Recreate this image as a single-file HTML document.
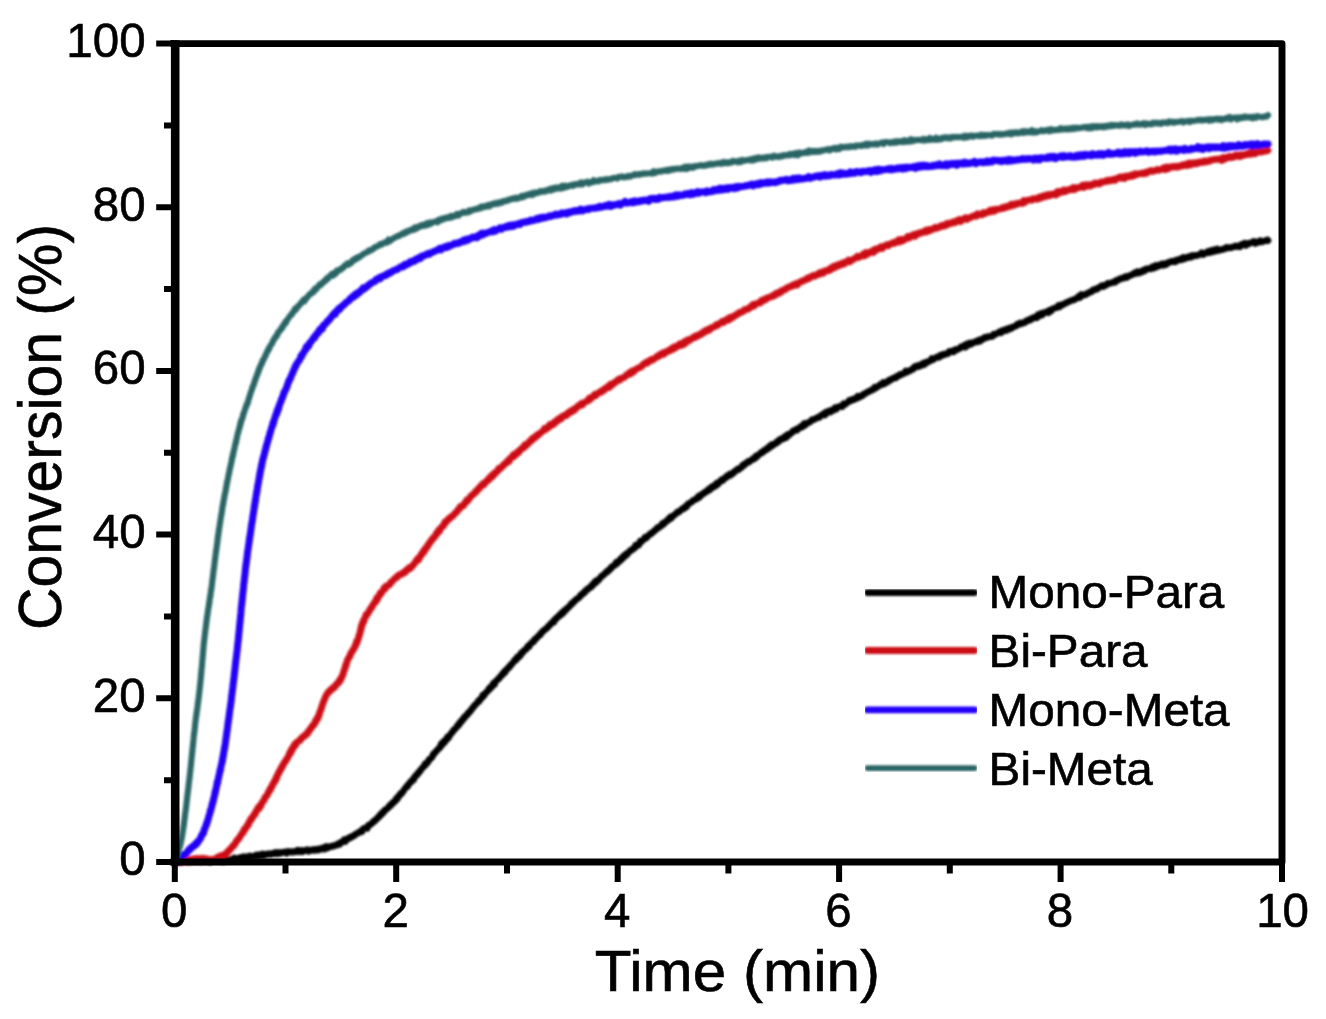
<!DOCTYPE html>
<html lang="en"><head><meta charset="utf-8"><title>Conversion vs Time</title>
<style>html,body{margin:0;padding:0;background:#fff}body{width:1326px;height:1019px;overflow:hidden}svg{display:block}text{font-family:"Liberation Sans",Arial,Helvetica,sans-serif;fill:#000;stroke:#000;stroke-width:0.6px}</style></head><body>
<svg width="1326" height="1019" viewBox="0 0 1326 1019">
<defs><filter id="soft" x="-2%" y="-2%" width="104%" height="104%"><feGaussianBlur stdDeviation="0.95"/></filter><filter id="soft2" x="-2%" y="-2%" width="104%" height="104%"><feGaussianBlur stdDeviation="0.6"/></filter></defs>
<rect width="1326" height="1019" fill="#fff"/>
<g filter="url(#soft)">
<g fill="none" stroke-linejoin="round" stroke-linecap="round">
<polyline stroke="#000000" stroke-width="6.6" points="175.0,862.2 176.6,861.3 178.2,862.2 179.8,860.4 181.4,862.4 183.0,861.1 184.6,861.8 186.2,861.1 187.8,862.1 189.4,861.0 191.0,862.0 192.6,861.1 194.2,861.6 195.8,860.7 197.4,861.7 199.0,861.0 200.6,861.9 202.2,860.6 203.8,861.5 205.4,860.5 207.0,861.7 208.6,860.4 210.2,862.0 211.8,860.8 213.4,860.4 215.0,859.5 216.6,861.1 218.2,859.9 219.8,861.1 221.4,859.9 223.0,861.6 224.6,859.2 226.2,860.4 227.7,860.1 229.3,860.5 230.9,859.2 232.5,859.7 234.1,858.0 235.7,859.5 237.3,858.2 238.9,858.6 240.4,857.4 242.0,858.5 243.6,856.8 245.2,858.0 246.8,856.7 248.4,857.6 249.9,856.0 251.5,857.3 253.1,856.1 254.7,856.7 256.3,855.0 257.9,856.4 259.5,854.7 261.0,856.1 262.6,854.0 264.2,855.7 265.8,854.0 267.4,854.5 269.0,853.5 270.6,854.5 272.2,853.3 273.7,853.8 275.3,852.4 276.9,853.8 278.5,852.3 280.1,853.5 281.7,852.4 283.3,852.4 284.9,851.9 286.5,853.2 288.1,851.4 289.6,852.2 291.2,851.5 292.8,852.3 294.4,851.3 296.0,851.9 297.6,850.2 299.2,851.7 300.8,850.4 302.4,851.8 304.0,850.4 305.6,850.7 307.2,849.6 308.8,851.3 310.4,850.0 312.0,850.4 313.6,849.4 315.1,850.4 316.7,849.1 318.3,850.1 319.9,848.5 321.5,849.2 323.0,847.8 324.6,849.1 326.2,846.4 327.8,848.0 329.4,846.6 330.9,846.8 332.4,845.9 333.9,846.2 335.4,845.1 336.9,845.2 338.3,843.7 339.8,844.3 341.2,842.1 342.6,841.9 344.0,839.8 345.4,841.4 346.8,838.8 348.2,839.0 349.6,837.4 351.0,837.6 352.4,836.1 353.8,836.1 355.2,834.2 356.6,834.2 357.9,832.7 359.3,832.4 360.6,831.0 362.0,831.6 363.3,828.5 364.7,828.3 366.0,827.5 367.3,828.4 368.6,825.0 369.9,825.0 371.1,823.6 372.3,823.2 373.5,821.1 374.7,821.2 375.8,819.4 377.0,819.0 378.1,817.0 379.3,816.8 380.4,814.3 381.5,814.5 382.7,812.0 383.8,812.3 384.9,809.7 386.1,809.7 387.2,808.4 388.4,807.8 389.5,805.6 390.7,805.8 391.8,803.2 393.0,803.3 394.1,801.3 395.2,801.2 396.3,798.4 397.3,799.0 398.4,796.2 399.4,795.9 400.4,793.6 401.5,793.7 402.5,792.1 403.5,790.9 404.5,789.0 405.5,788.0 406.5,786.5 407.5,786.7 408.5,783.9 409.6,783.6 410.6,781.6 411.6,781.7 412.7,779.4 413.7,779.7 414.7,776.7 415.8,776.3 416.8,774.2 417.8,774.1 418.8,771.8 419.9,771.6 420.9,769.4 421.9,768.5 422.9,767.2 424.0,766.5 425.0,763.9 426.0,764.5 427.0,762.4 428.1,762.0 429.1,759.5 430.1,759.0 431.1,758.1 432.1,757.2 433.2,754.1 434.2,754.1 435.2,752.1 436.2,751.4 437.3,749.7 438.3,749.3 439.3,747.6 440.3,747.4 441.3,743.7 442.4,744.6 443.4,741.7 444.4,742.6 445.4,739.9 446.5,739.9 447.5,736.9 448.5,737.9 449.5,735.7 450.6,734.4 451.6,732.6 452.6,732.1 453.6,730.0 454.7,729.4 455.7,728.3 456.7,727.1 457.8,725.0 458.8,725.2 459.8,722.4 460.9,722.4 461.9,720.0 462.9,720.0 464.0,717.3 465.0,717.5 466.0,715.3 467.1,715.1 468.1,712.9 469.2,712.7 470.2,710.8 471.2,710.2 472.3,708.0 473.3,707.7 474.4,705.4 475.4,705.0 476.5,703.4 477.5,702.7 478.6,700.5 479.6,700.8 480.7,698.5 481.7,698.1 482.8,695.2 483.8,696.0 484.9,693.7 485.9,692.9 487.0,691.5 488.0,690.8 489.1,688.3 490.2,688.7 491.2,686.3 492.3,686.4 493.3,683.4 494.4,684.6 495.5,681.4 496.5,680.9 497.6,679.4 498.7,679.0 499.7,677.0 500.8,676.6 501.9,674.4 502.9,674.5 504.0,671.8 505.1,672.3 506.2,669.5 507.2,669.3 508.3,667.4 509.4,667.4 510.5,664.9 511.5,664.6 512.6,662.9 513.7,661.9 514.8,659.9 515.9,660.2 517.0,657.4 518.1,657.9 519.1,655.6 520.2,655.9 521.3,652.9 522.4,653.0 523.5,651.1 524.6,650.0 525.7,649.8 526.8,648.3 527.9,646.1 529.1,646.6 530.2,644.0 531.3,643.3 532.4,642.0 533.5,642.0 534.6,639.3 535.7,639.3 536.9,637.4 538.0,636.8 539.1,635.1 540.2,635.0 541.4,632.4 542.5,632.1 543.6,630.3 544.8,630.1 545.9,628.6 547.0,628.2 548.2,626.2 549.3,626.0 550.5,623.8 551.6,623.4 552.8,621.7 553.9,622.1 555.1,619.1 556.2,619.0 557.4,617.0 558.5,616.8 559.7,614.6 560.8,614.9 562.0,612.5 563.2,613.2 564.3,610.4 565.5,610.5 566.6,608.6 567.8,608.1 569.0,606.6 570.2,605.8 571.3,603.6 572.5,603.7 573.7,601.6 574.8,601.2 576.0,599.5 577.2,598.9 578.4,597.9 579.5,597.3 580.7,594.9 581.9,594.9 583.1,592.9 584.3,593.0 585.4,590.5 586.6,590.5 587.8,588.6 589.0,588.5 590.2,586.9 591.4,587.0 592.5,584.4 593.7,584.6 594.9,581.7 596.1,582.5 597.3,580.1 598.5,580.3 599.6,578.6 600.8,577.1 602.0,575.9 603.2,575.4 604.4,573.9 605.6,573.2 606.7,571.3 607.9,571.6 609.1,569.6 610.3,569.4 611.5,566.9 612.7,567.0 613.8,565.4 615.0,565.1 616.2,562.3 617.4,563.3 618.6,560.9 619.8,561.1 621.0,558.5 622.2,559.0 623.4,556.1 624.5,556.8 625.7,554.2 626.9,554.7 628.1,552.7 629.3,552.0 630.5,550.2 631.7,550.2 633.0,548.5 634.2,548.4 635.4,545.5 636.6,546.2 637.8,544.2 639.0,544.8 640.2,541.2 641.4,541.7 642.7,540.3 643.9,539.3 645.1,537.3 646.4,538.0 647.6,536.1 648.8,535.5 650.1,533.9 651.3,533.8 652.5,532.2 653.8,531.7 655.0,530.0 656.3,529.4 657.5,527.6 658.8,527.7 660.0,526.1 661.3,526.0 662.5,523.4 663.8,524.0 665.0,522.0 666.3,521.8 667.6,519.6 668.8,519.8 670.1,517.1 671.4,518.0 672.6,515.9 673.9,515.6 675.2,514.2 676.4,513.5 677.7,511.7 679.0,511.9 680.3,510.8 681.5,509.5 682.8,508.3 684.1,508.6 685.4,506.3 686.7,506.8 687.9,503.9 689.2,503.5 690.5,502.6 691.8,502.0 693.1,500.3 694.4,500.2 695.7,499.0 696.9,499.0 698.2,496.4 699.5,497.2 700.8,494.8 702.1,494.9 703.4,493.0 704.7,493.0 706.0,491.3 707.3,491.4 708.6,489.1 709.9,489.8 711.2,487.1 712.5,487.6 713.8,485.7 715.1,486.2 716.4,483.5 717.7,484.5 719.0,481.9 720.3,481.9 721.6,479.7 723.0,480.4 724.3,478.2 725.6,477.9 726.9,475.9 728.2,476.3 729.5,474.2 730.8,475.1 732.1,473.2 733.4,473.2 734.8,471.0 736.1,470.9 737.4,469.0 738.7,469.5 740.0,468.0 741.3,467.7 742.6,465.2 743.9,465.5 745.2,463.3 746.6,463.4 747.9,461.6 749.2,461.9 750.5,460.5 751.8,460.0 753.1,458.5 754.4,458.8 755.7,456.2 757.0,456.9 758.4,454.6 759.7,454.3 761.0,452.6 762.3,452.7 763.6,450.6 764.9,450.8 766.2,448.9 767.6,449.2 768.9,446.7 770.2,447.2 771.5,444.6 772.8,445.5 774.2,443.7 775.5,443.7 776.8,441.7 778.1,442.1 779.5,439.6 780.8,440.0 782.1,438.3 783.5,438.7 784.8,436.5 786.2,437.6 787.5,434.6 788.9,435.2 790.2,433.4 791.6,433.1 792.9,430.9 794.3,431.0 795.6,429.6 797.0,430.2 798.4,428.0 799.7,428.2 801.1,426.1 802.5,426.8 803.9,423.8 805.3,425.0 806.6,423.1 808.0,422.9 809.4,422.3 810.8,421.3 812.2,419.5 813.6,419.8 815.0,418.9 816.4,418.4 817.9,417.2 819.3,417.5 820.7,415.6 822.1,415.3 823.5,413.8 825.0,415.0 826.4,412.0 827.8,412.6 829.2,411.0 830.7,411.8 832.1,409.8 833.5,410.3 835.0,407.8 836.4,409.0 837.8,407.0 839.3,406.6 840.7,406.0 842.2,406.7 843.6,403.7 845.0,404.4 846.5,403.1 847.9,402.4 849.3,400.4 850.7,401.0 852.2,399.4 853.6,399.8 855.0,398.4 856.4,398.7 857.8,396.2 859.3,397.3 860.7,395.9 862.1,396.0 863.5,394.1 864.9,394.1 866.3,392.6 867.7,392.2 869.1,391.0 870.5,391.0 871.9,389.6 873.3,389.7 874.7,387.2 876.1,388.0 877.5,386.6 878.9,386.0 880.3,384.4 881.7,384.7 883.1,382.5 884.5,383.8 885.9,382.1 887.3,382.3 888.8,380.2 890.2,380.5 891.6,378.8 893.0,378.8 894.4,377.6 895.8,378.0 897.3,376.1 898.7,376.0 900.1,374.4 901.5,374.7 903.0,373.6 904.4,373.4 905.8,370.9 907.3,372.1 908.7,370.9 910.1,370.9 911.6,369.2 913.0,369.3 914.5,366.7 915.9,367.2 917.3,365.7 918.8,366.5 920.2,364.9 921.7,365.5 923.1,363.3 924.6,364.3 926.0,362.0 927.5,362.3 928.9,361.2 930.4,360.9 931.8,358.5 933.3,359.6 934.7,358.3 936.2,357.5 937.6,356.8 939.1,357.3 940.6,355.1 942.0,355.6 943.5,354.2 944.9,354.7 946.4,353.6 947.8,353.7 949.3,351.3 950.8,352.0 952.2,350.9 953.7,351.8 955.1,349.5 956.6,350.0 958.1,348.9 959.5,348.7 961.0,346.8 962.5,346.9 963.9,345.6 965.4,347.1 966.9,344.0 968.4,345.1 969.8,342.9 971.3,344.0 972.8,342.6 974.3,342.6 975.8,341.3 977.3,341.9 978.7,340.1 980.2,341.1 981.7,339.0 983.2,339.2 984.7,337.3 986.2,337.8 987.7,336.6 989.2,336.9 990.7,336.3 992.2,336.5 993.7,334.1 995.2,334.6 996.7,333.6 998.1,332.8 999.6,331.7 1001.1,332.7 1002.6,330.3 1004.1,331.0 1005.6,329.4 1007.1,330.3 1008.6,328.4 1010.1,329.0 1011.6,327.3 1013.0,327.6 1014.5,326.3 1016.0,326.1 1017.5,324.1 1019.0,324.5 1020.4,322.8 1021.9,323.7 1023.4,322.5 1024.9,322.7 1026.3,320.7 1027.8,320.9 1029.3,319.4 1030.7,319.9 1032.2,318.1 1033.6,318.2 1035.1,316.8 1036.6,317.8 1038.0,314.8 1039.5,316.0 1040.9,313.5 1042.4,314.8 1043.8,312.6 1045.3,312.6 1046.7,311.6 1048.2,312.7 1049.6,310.2 1051.1,311.1 1052.5,308.8 1053.9,308.4 1055.4,307.7 1056.8,307.7 1058.3,305.6 1059.7,306.8 1061.2,304.9 1062.6,305.0 1064.1,303.7 1065.5,303.5 1066.9,302.3 1068.4,302.1 1069.8,300.9 1071.3,300.7 1072.7,299.9 1074.2,299.9 1075.6,298.6 1077.1,298.2 1078.5,296.5 1080.0,297.5 1081.4,294.4 1082.9,295.4 1084.3,294.5 1085.8,294.7 1087.2,293.2 1088.7,293.1 1090.2,291.7 1091.6,291.7 1093.1,289.7 1094.5,290.0 1096.0,288.7 1097.4,289.1 1098.9,287.4 1100.4,286.7 1101.8,285.6 1103.3,286.6 1104.8,285.1 1106.2,285.3 1107.7,283.4 1109.1,283.4 1110.6,283.3 1112.1,282.6 1113.6,281.9 1115.0,282.4 1116.5,280.2 1118.0,280.3 1119.5,278.9 1120.9,278.9 1122.4,277.8 1123.9,278.2 1125.4,276.7 1126.9,277.4 1128.4,276.1 1129.9,275.8 1131.4,274.7 1132.9,274.5 1134.4,272.9 1135.9,273.5 1137.4,271.8 1138.9,273.1 1140.4,271.5 1141.9,272.2 1143.4,270.1 1144.9,270.8 1146.4,268.9 1147.9,269.2 1149.5,268.3 1151.0,268.8 1152.5,266.7 1154.0,268.0 1155.6,265.5 1157.1,266.7 1158.6,265.0 1160.1,265.6 1161.7,263.9 1163.2,265.3 1164.7,263.6 1166.3,264.5 1167.8,262.5 1169.3,262.6 1170.9,261.4 1172.4,261.8 1173.9,260.9 1175.5,261.8 1177.0,259.9 1178.5,260.3 1180.1,258.8 1181.6,259.7 1183.2,257.6 1184.7,258.9 1186.3,257.4 1187.8,257.8 1189.3,256.3 1190.9,257.3 1192.4,255.4 1194.0,256.1 1195.5,255.2 1197.1,255.7 1198.6,254.8 1200.2,254.5 1201.7,252.7 1203.3,254.5 1204.8,253.0 1206.4,253.1 1207.9,251.4 1209.5,252.6 1211.0,250.5 1212.6,251.8 1214.1,249.7 1215.7,251.1 1217.2,249.0 1218.8,250.5 1220.3,249.7 1221.9,249.8 1223.4,248.7 1224.9,249.0 1226.4,247.4 1227.9,248.0 1229.5,247.5 1231.0,247.9 1232.5,247.1 1234.0,246.8 1235.5,245.8 1237.0,246.7 1238.5,245.8 1240.0,246.7 1241.5,244.4 1243.0,245.0 1244.5,243.3 1246.0,245.3 1247.5,243.4 1249.0,243.9 1250.5,242.8 1252.1,242.6 1253.6,241.5 1255.2,243.4 1256.8,241.8 1258.5,242.5 1260.2,240.6 1261.9,242.0 1263.7,241.1 1265.5,240.7 1267.4,239.8 1268.0,240.6"/>
<polyline stroke="#cc0b12" stroke-width="6.8" points="175.0,862.1 176.6,860.7 178.2,861.7 179.8,859.7 181.4,862.3 183.0,860.9 184.6,861.3 186.2,860.4 187.8,861.1 189.4,859.5 190.9,860.9 192.5,859.1 194.1,860.0 195.7,858.5 197.3,859.9 198.9,858.5 200.5,859.9 202.1,858.4 203.7,859.9 205.3,858.6 206.9,860.5 208.5,859.3 210.1,860.5 211.6,859.3 213.3,859.6 214.9,858.8 216.4,860.0 218.0,856.9 219.5,857.5 220.8,855.9 222.2,857.2 223.5,854.9 224.8,855.4 226.1,853.0 227.3,852.8 228.5,850.6 229.6,850.4 230.7,848.5 231.8,847.7 232.9,845.7 233.9,845.8 234.8,844.0 235.8,842.8 236.7,840.3 237.7,840.2 238.6,838.4 239.5,837.7 240.4,835.9 241.3,834.4 242.2,833.1 243.1,832.9 244.0,829.5 244.9,829.8 245.7,827.8 246.5,827.1 247.4,825.0 248.2,825.2 249.1,822.0 249.9,821.5 250.8,818.9 251.7,819.2 252.6,816.5 253.5,816.3 254.4,813.9 255.3,814.0 256.2,810.9 257.1,810.5 258.0,807.7 258.9,808.9 259.8,806.0 260.7,806.3 261.6,803.3 262.4,802.7 263.3,800.7 264.1,800.3 264.9,797.3 265.8,797.2 266.6,795.7 267.4,794.9 268.2,792.4 269.0,791.9 269.8,789.2 270.6,789.5 271.4,786.7 272.2,786.1 272.9,783.9 273.7,783.2 274.4,781.1 275.2,781.2 275.9,777.9 276.6,778.4 277.3,775.1 278.0,775.0 278.7,772.2 279.5,772.1 280.2,769.7 281.0,769.2 281.8,766.6 282.6,766.4 283.4,763.8 284.2,763.3 285.0,761.3 285.8,761.2 286.6,758.9 287.4,758.5 288.1,756.7 288.9,755.6 289.6,752.8 290.4,753.4 291.2,749.8 292.1,750.3 292.9,747.1 293.8,747.4 294.7,744.1 295.7,745.0 296.7,742.3 297.7,741.9 298.9,740.7 300.1,740.4 301.3,738.0 302.6,737.7 303.8,735.8 305.0,735.8 306.2,734.0 307.3,734.0 308.3,731.1 309.3,731.0 310.3,728.7 311.2,728.2 312.2,726.0 313.1,726.0 314.0,723.8 314.8,723.8 315.6,720.5 316.4,720.7 317.2,717.9 317.9,718.5 318.6,715.2 319.2,715.0 319.8,711.8 320.3,711.5 320.9,709.2 321.4,708.5 321.9,706.1 322.4,705.0 322.9,703.2 323.4,702.1 324.0,700.5 324.6,699.4 325.2,697.4 325.9,696.2 326.7,694.4 327.5,693.8 328.5,691.6 329.6,691.7 330.8,689.4 332.0,689.6 333.2,687.5 334.5,687.5 335.7,685.0 336.9,684.5 338.0,682.4 339.0,682.5 339.9,679.4 340.6,680.3 341.3,677.5 342.0,677.1 342.5,675.0 343.1,674.5 343.6,671.7 344.1,670.8 344.6,668.7 345.1,668.2 345.6,665.1 346.1,665.4 346.7,662.5 347.2,661.2 347.8,659.4 348.5,658.5 349.2,656.9 349.9,656.4 350.7,653.2 351.4,653.0 352.2,650.8 353.0,650.4 353.8,648.6 354.5,647.9 355.3,645.0 356.0,645.0 356.6,641.5 357.3,642.0 357.8,639.7 358.4,638.9 358.8,636.0 359.3,636.1 359.7,633.9 360.1,632.8 360.5,629.6 360.9,630.1 361.3,626.2 361.7,626.7 362.2,623.7 362.8,623.9 363.4,620.6 364.0,621.1 364.7,618.2 365.5,617.1 366.2,614.5 367.0,614.9 367.9,613.0 368.7,612.3 369.6,609.8 370.5,609.4 371.3,607.3 372.2,606.9 373.1,604.5 373.9,603.7 374.8,602.1 375.7,601.9 376.5,598.4 377.4,599.6 378.3,596.5 379.3,595.9 380.2,592.9 381.1,593.7 382.1,591.3 383.1,590.7 384.1,587.9 385.1,588.9 386.2,586.0 387.3,586.0 388.5,585.1 389.6,584.8 390.8,582.2 392.0,581.7 393.3,580.0 394.5,578.9 395.7,577.7 397.0,577.5 398.3,575.2 399.5,575.2 400.9,574.0 402.2,574.1 403.6,572.1 405.0,572.6 406.3,570.0 407.6,570.1 408.9,567.8 410.1,568.5 411.3,566.7 412.4,566.4 413.5,564.4 414.5,563.6 415.6,561.6 416.6,561.3 417.6,558.8 418.6,559.8 419.6,557.0 420.5,556.2 421.5,553.8 422.5,553.9 423.4,551.0 424.4,551.5 425.3,548.5 426.3,548.6 427.2,546.0 428.1,545.9 429.0,543.2 429.9,542.9 430.8,540.7 431.7,540.6 432.6,538.3 433.6,538.3 434.5,536.4 435.5,536.0 436.4,533.2 437.4,533.4 438.4,530.5 439.4,531.2 440.4,528.5 441.5,527.6 442.5,526.1 443.5,526.0 444.6,522.4 445.6,523.0 446.7,520.8 447.8,520.2 448.9,518.3 450.0,518.3 451.1,516.6 452.3,516.5 453.4,515.2 454.6,514.0 455.7,512.4 456.9,512.0 458.0,509.8 459.1,509.2 460.2,506.7 461.3,507.1 462.4,505.4 463.5,505.6 464.6,503.0 465.7,502.8 466.8,500.1 467.8,500.9 468.9,498.5 470.0,497.8 471.1,495.7 472.3,495.3 473.4,494.0 474.5,493.6 475.7,491.2 476.8,491.3 478.0,489.1 479.1,488.8 480.3,486.3 481.4,486.3 482.6,483.9 483.8,484.7 484.9,483.2 486.1,481.7 487.2,480.2 488.4,480.3 489.6,477.6 490.7,478.0 491.9,475.3 493.0,476.2 494.2,473.3 495.3,473.6 496.5,471.6 497.6,471.2 498.8,468.4 500.0,468.9 501.1,467.2 502.3,466.9 503.5,464.8 504.6,464.3 505.8,462.6 506.9,462.8 508.1,460.4 509.3,461.1 510.5,458.1 511.6,457.8 512.8,455.4 514.0,456.5 515.2,453.8 516.4,454.3 517.5,451.9 518.7,452.4 519.9,450.1 521.1,449.5 522.3,447.6 523.5,447.9 524.7,444.9 525.9,446.0 527.1,443.8 528.3,443.7 529.6,441.2 530.8,441.4 532.0,438.8 533.2,439.3 534.5,437.0 535.7,437.3 537.0,435.0 538.2,435.4 539.4,433.7 540.7,432.9 542.0,431.6 543.2,430.7 544.5,428.5 545.7,429.5 547.0,427.5 548.3,427.8 549.6,424.9 550.9,425.7 552.1,423.8 553.4,424.4 554.7,421.8 556.0,422.2 557.3,419.7 558.6,420.2 559.9,418.1 561.3,418.7 562.6,416.1 563.9,416.3 565.2,414.9 566.5,415.5 567.8,413.0 569.2,413.2 570.5,411.0 571.8,411.7 573.2,409.5 574.5,410.2 575.8,407.7 577.2,407.4 578.5,405.6 579.8,405.7 581.2,403.6 582.5,404.8 583.8,402.6 585.2,402.1 586.5,401.2 587.9,400.9 589.2,398.4 590.5,399.2 591.9,397.0 593.2,397.0 594.5,394.6 595.9,395.5 597.2,393.7 598.6,392.8 599.9,392.0 601.2,392.3 602.6,389.9 603.9,390.3 605.3,388.2 606.6,388.2 607.9,386.4 609.3,387.3 610.6,384.3 612.0,385.2 613.3,383.2 614.7,383.1 616.0,381.2 617.4,381.1 618.7,379.3 620.0,379.9 621.4,378.1 622.7,377.8 624.1,377.4 625.4,376.2 626.8,374.6 628.2,374.7 629.5,372.7 630.9,373.6 632.2,371.0 633.6,371.9 635.0,369.9 636.3,369.3 637.7,368.2 639.1,367.8 640.4,367.2 641.8,366.3 643.2,364.2 644.5,364.1 645.9,362.4 647.3,363.0 648.7,360.9 650.1,361.1 651.5,359.4 652.8,359.9 654.2,358.7 655.6,357.8 657.0,356.4 658.4,356.5 659.8,354.4 661.2,354.9 662.6,353.1 664.0,354.1 665.4,351.9 666.8,352.1 668.2,350.7 669.6,350.9 671.0,348.8 672.5,349.4 673.9,347.1 675.3,348.0 676.7,346.1 678.1,346.1 679.5,344.0 680.9,345.4 682.4,343.0 683.8,344.5 685.2,341.2 686.6,342.2 688.0,339.8 689.5,340.4 690.9,338.8 692.3,338.6 693.7,337.0 695.1,337.5 696.5,335.6 698.0,336.1 699.4,334.5 700.8,334.7 702.2,332.7 703.6,332.8 705.0,330.7 706.5,331.2 707.9,329.4 709.3,330.2 710.7,328.0 712.1,328.0 713.5,326.8 714.9,326.6 716.3,324.8 717.8,325.3 719.2,323.7 720.6,323.0 722.0,321.6 723.4,322.5 724.8,320.4 726.2,320.5 727.6,318.8 729.0,319.9 730.4,317.3 731.8,318.1 733.2,316.3 734.6,316.1 736.0,314.6 737.4,314.6 738.8,312.7 740.3,312.8 741.7,311.7 743.1,311.6 744.5,309.6 745.9,309.8 747.3,309.0 748.7,309.0 750.1,306.8 751.5,306.9 752.9,304.7 754.3,305.8 755.8,303.9 757.2,303.6 758.6,302.8 760.0,303.0 761.4,300.5 762.8,301.0 764.3,299.2 765.7,299.8 767.1,297.9 768.5,297.7 770.0,297.0 771.4,296.9 772.8,295.5 774.2,295.8 775.7,293.5 777.1,294.1 778.5,292.4 780.0,292.8 781.4,290.6 782.8,290.9 784.3,289.3 785.7,289.4 787.1,287.7 788.6,287.5 790.0,286.5 791.5,286.5 792.9,284.9 794.3,285.5 795.8,283.9 797.2,284.9 798.7,282.5 800.1,282.3 801.6,281.1 803.0,281.2 804.5,279.9 805.9,279.9 807.4,278.1 808.9,278.6 810.3,276.8 811.8,276.8 813.2,275.5 814.7,276.2 816.2,274.9 817.6,274.8 819.1,273.1 820.6,273.9 822.0,272.1 823.5,273.0 825.0,270.9 826.4,271.1 827.9,269.9 829.4,270.5 830.8,268.0 832.3,268.7 833.8,266.3 835.2,267.3 836.7,265.3 838.2,266.1 839.7,264.2 841.1,264.8 842.6,263.1 844.1,263.9 845.5,262.0 847.0,262.2 848.5,260.2 850.0,261.7 851.4,260.0 852.9,259.8 854.4,258.5 855.8,258.1 857.3,256.4 858.8,257.4 860.3,256.3 861.7,255.9 863.2,254.2 864.7,255.7 866.1,252.6 867.6,254.1 869.1,252.3 870.6,252.5 872.0,251.0 873.5,252.4 875.0,249.3 876.5,250.1 878.0,248.4 879.4,248.8 880.9,246.8 882.4,248.5 883.9,246.2 885.4,246.0 886.8,244.7 888.3,245.7 889.8,244.0 891.3,243.8 892.8,242.7 894.3,243.3 895.8,241.7 897.3,242.2 898.7,239.7 900.2,241.7 901.7,239.4 903.2,240.5 904.7,239.3 906.2,238.7 907.7,236.6 909.2,238.0 910.7,236.0 912.2,236.4 913.7,234.6 915.2,236.2 916.8,233.7 918.3,234.0 919.8,232.7 921.3,233.0 922.8,231.9 924.3,232.2 925.8,230.4 927.3,231.6 928.8,229.5 930.4,230.6 931.9,229.2 933.4,229.2 934.9,227.5 936.4,228.4 937.9,227.1 939.5,227.4 941.0,225.8 942.5,226.4 944.0,224.9 945.5,225.7 947.1,223.6 948.6,224.3 950.1,222.9 951.6,223.3 953.1,222.0 954.7,222.8 956.2,221.0 957.7,221.4 959.2,219.7 960.8,221.3 962.3,219.4 963.8,219.3 965.4,217.9 966.9,219.5 968.4,217.8 969.9,217.9 971.5,216.8 973.0,216.4 974.5,215.4 976.1,216.3 977.6,213.8 979.1,214.9 980.7,213.9 982.2,214.7 983.7,212.5 985.2,213.5 986.8,212.4 988.3,212.3 989.9,210.4 991.4,211.6 992.9,209.9 994.5,211.2 996.0,209.2 997.5,209.5 999.1,209.2 1000.6,208.8 1002.1,207.6 1003.7,208.3 1005.2,206.8 1006.8,207.3 1008.3,205.9 1009.8,206.3 1011.4,204.3 1012.9,205.4 1014.5,203.9 1016.0,204.6 1017.5,203.2 1019.1,203.5 1020.6,202.8 1022.2,203.5 1023.7,200.6 1025.2,202.1 1026.8,200.3 1028.3,200.2 1029.9,199.9 1031.4,200.2 1033.0,198.7 1034.5,199.3 1036.0,198.5 1037.6,199.2 1039.1,197.3 1040.7,198.2 1042.2,196.3 1043.8,197.1 1045.3,195.3 1046.8,196.3 1048.4,194.5 1049.9,195.6 1051.5,194.2 1053.0,194.7 1054.6,193.6 1056.1,194.8 1057.7,191.5 1059.2,193.0 1060.8,191.3 1062.3,192.1 1063.9,190.2 1065.4,191.5 1067.0,189.9 1068.5,190.4 1070.1,189.1 1071.6,189.7 1073.2,187.5 1074.7,189.6 1076.3,187.6 1077.8,188.0 1079.4,187.1 1080.9,187.4 1082.5,185.4 1084.0,187.3 1085.6,184.8 1087.2,186.1 1088.7,184.8 1090.3,186.0 1091.8,184.4 1093.4,184.8 1094.9,183.0 1096.5,183.8 1098.0,182.9 1099.6,183.9 1101.2,182.0 1102.7,182.3 1104.3,181.5 1105.8,181.7 1107.4,180.2 1109.0,181.0 1110.5,179.9 1112.1,180.5 1113.6,179.3 1115.2,180.2 1116.7,178.4 1118.3,178.1 1119.9,176.9 1121.4,178.3 1123.0,176.8 1124.5,178.4 1126.1,176.1 1127.7,176.8 1129.2,175.8 1130.8,176.6 1132.3,174.7 1133.9,175.7 1135.4,173.7 1137.0,174.5 1138.6,173.9 1140.1,173.7 1141.7,173.2 1143.3,173.8 1144.8,172.4 1146.4,173.3 1147.9,171.7 1149.5,171.5 1151.1,170.5 1152.6,171.4 1154.2,170.6 1155.8,170.6 1157.3,169.4 1158.9,170.3 1160.5,169.5 1162.0,169.3 1163.6,167.9 1165.2,169.5 1166.7,167.0 1168.3,168.7 1169.9,167.0 1171.5,167.4 1173.0,166.5 1174.6,167.1 1176.2,166.1 1177.7,167.0 1179.3,166.0 1180.9,166.3 1182.5,164.9 1184.0,165.5 1185.6,164.3 1187.2,165.5 1188.8,163.0 1190.3,164.8 1191.9,163.0 1193.5,164.0 1195.1,162.8 1196.6,163.8 1198.2,162.2 1199.8,162.8 1201.3,161.7 1202.9,162.4 1204.5,160.9 1206.1,161.9 1207.6,160.8 1209.2,161.3 1210.8,160.0 1212.4,160.2 1213.9,159.3 1215.5,159.5 1217.0,159.1 1218.6,159.3 1220.2,158.8 1221.7,160.3 1223.3,157.6 1224.8,159.1 1226.3,157.4 1227.8,157.8 1229.4,156.4 1230.9,157.7 1232.4,156.7 1233.9,157.1 1235.5,155.1 1237.0,156.1 1238.5,155.0 1240.0,156.5 1241.5,154.7 1243.0,155.6 1244.5,154.5 1246.0,154.8 1247.5,153.5 1249.0,154.3 1250.6,152.3 1252.1,154.0 1253.7,152.5 1255.3,153.6 1256.9,151.3 1258.6,152.3 1260.2,151.5 1262.0,152.1 1263.7,151.1 1265.6,151.0 1267.4,149.9 1267.9,150.6"/>
<polyline stroke="#2200f8" stroke-width="7.0" points="175.1,863.1 176.6,859.6 178.0,861.1 179.3,858.7 180.6,858.8 181.8,856.7 182.9,856.0 184.1,854.4 185.2,854.0 186.3,853.3 187.4,852.1 188.6,849.7 189.8,849.8 191.0,847.5 192.3,847.4 193.5,845.5 194.7,845.8 195.9,843.3 197.0,843.7 198.1,840.9 199.0,840.8 199.9,838.9 200.7,838.2 201.5,835.3 202.2,835.1 202.9,832.8 203.6,832.9 204.2,829.4 204.8,829.0 205.4,826.9 206.0,825.8 206.5,823.4 207.0,823.4 207.5,820.7 208.0,820.1 208.5,817.6 209.0,815.9 209.4,814.7 209.9,813.5 210.3,810.6 210.7,810.9 211.2,808.4 211.6,807.5 212.0,804.6 212.4,804.6 212.8,801.9 213.2,802.0 213.5,799.1 213.9,798.4 214.3,796.1 214.7,795.1 215.0,792.2 215.4,792.3 215.8,789.7 216.1,788.9 216.5,786.0 216.8,785.9 217.2,782.2 217.6,783.0 217.9,780.3 218.3,779.0 218.6,777.0 219.0,776.1 219.3,774.1 219.7,772.6 220.0,770.3 220.4,770.5 220.7,768.0 221.1,766.3 221.4,764.3 221.7,764.1 222.1,761.1 222.4,761.4 222.7,757.7 223.0,757.8 223.3,754.6 223.5,755.1 223.8,751.9 224.1,751.2 224.4,748.0 224.6,748.9 224.9,745.8 225.1,745.3 225.4,742.8 225.6,742.0 225.8,739.0 226.1,738.4 226.3,735.8 226.5,736.1 226.7,732.3 227.0,732.2 227.2,729.6 227.4,729.3 227.6,726.8 227.8,725.6 228.0,722.7 228.2,722.9 228.4,720.7 228.6,720.0 228.9,717.1 229.1,716.5 229.3,714.0 229.5,713.3 229.7,711.0 229.9,709.9 230.2,707.6 230.4,707.0 230.6,704.6 230.8,704.0 231.0,702.2 231.2,701.3 231.4,698.6 231.6,696.8 231.8,694.7 232.0,694.2 232.2,691.9 232.4,690.3 232.6,689.0 232.8,688.4 233.0,684.8 233.2,684.5 233.4,681.8 233.5,681.7 233.7,679.2 233.9,679.3 234.1,675.7 234.3,675.6 234.4,672.7 234.6,672.8 234.8,669.7 235.0,669.5 235.2,665.8 235.4,665.7 235.5,662.8 235.7,663.1 235.9,660.1 236.1,659.3 236.3,656.5 236.5,656.4 236.7,653.3 236.9,652.7 237.1,650.5 237.2,650.8 237.4,647.1 237.6,646.5 237.8,643.5 237.9,643.0 238.1,641.0 238.3,640.6 238.4,637.6 238.6,637.3 238.7,634.5 238.9,634.0 239.1,630.7 239.2,630.6 239.4,628.1 239.5,627.3 239.7,624.7 239.8,624.1 240.0,621.6 240.1,621.5 240.3,618.4 240.4,618.0 240.6,615.6 240.7,615.1 240.9,612.8 241.0,610.9 241.2,609.3 241.3,608.3 241.5,605.8 241.7,605.6 241.8,603.0 242.0,602.5 242.1,599.5 242.3,599.5 242.5,596.1 242.6,595.7 242.8,593.3 243.0,592.3 243.1,590.7 243.3,589.7 243.5,587.5 243.6,586.2 243.8,583.3 244.0,583.1 244.2,580.6 244.3,579.6 244.5,577.3 244.7,576.6 244.9,574.6 245.1,573.2 245.2,571.2 245.4,570.0 245.6,567.2 245.8,566.8 246.0,564.0 246.2,564.0 246.4,561.6 246.6,560.8 246.8,558.3 247.0,558.2 247.2,555.0 247.4,554.5 247.6,551.6 247.9,550.6 248.1,548.8 248.3,547.4 248.5,545.6 248.8,544.9 249.0,542.6 249.2,541.7 249.4,538.7 249.7,538.7 249.9,535.7 250.2,535.3 250.4,532.7 250.6,532.2 250.9,529.5 251.1,528.8 251.3,526.3 251.6,525.1 251.8,523.2 252.1,522.3 252.3,520.5 252.5,520.1 252.8,516.2 253.0,516.5 253.3,513.7 253.5,512.9 253.7,510.8 254.0,509.9 254.2,506.8 254.5,506.8 254.7,504.2 255.0,503.8 255.2,500.6 255.5,500.9 255.7,498.2 256.0,497.0 256.2,494.5 256.5,494.3 256.7,491.4 257.0,491.8 257.3,488.6 257.5,487.6 257.8,485.0 258.1,484.8 258.3,483.0 258.6,481.6 258.9,479.1 259.2,478.7 259.4,475.9 259.7,476.3 260.0,472.5 260.3,472.6 260.6,469.7 260.9,469.4 261.3,466.0 261.6,466.7 261.9,463.3 262.3,462.9 262.6,459.9 263.0,459.6 263.3,457.4 263.7,457.1 264.1,454.4 264.5,454.1 264.9,451.3 265.3,450.6 265.7,448.2 266.1,447.7 266.5,444.8 266.9,444.7 267.4,442.2 267.8,441.4 268.3,438.5 268.7,438.5 269.1,436.3 269.6,435.1 270.0,432.5 270.5,432.1 271.0,430.0 271.4,428.4 271.9,426.6 272.4,426.5 272.9,423.1 273.4,423.6 273.9,420.6 274.4,419.8 274.9,417.4 275.4,416.4 276.0,414.1 276.5,414.6 277.0,411.0 277.6,411.7 278.1,408.3 278.7,408.4 279.2,405.4 279.8,404.2 280.4,402.2 280.9,402.1 281.5,399.0 282.1,398.5 282.6,396.6 283.2,395.8 283.8,392.8 284.4,392.8 285.0,390.8 285.6,389.9 286.2,387.9 286.8,387.7 287.4,384.6 288.0,383.8 288.6,381.1 289.2,381.2 289.8,379.0 290.5,378.4 291.1,376.0 291.7,375.2 292.4,373.0 293.1,372.3 293.7,369.9 294.4,369.2 295.1,366.5 295.8,366.6 296.5,363.9 297.2,363.6 297.9,361.8 298.7,361.2 299.5,359.9 300.2,358.9 301.0,355.8 301.9,356.1 302.7,353.5 303.6,352.8 304.4,351.1 305.3,350.1 306.2,346.8 307.1,348.1 308.0,345.1 308.9,345.7 309.8,342.5 310.7,342.2 311.6,340.8 312.6,339.6 313.5,337.8 314.5,338.1 315.5,335.2 316.5,335.0 317.5,332.8 318.5,332.9 319.5,329.9 320.5,330.4 321.5,328.0 322.5,328.6 323.5,325.3 324.6,324.9 325.6,323.3 326.6,322.8 327.7,320.7 328.8,320.6 329.8,318.7 330.9,318.0 332.0,315.9 333.1,314.9 334.2,313.3 335.3,314.2 336.4,311.1 337.5,311.1 338.7,308.6 339.8,309.3 340.9,306.9 342.1,306.4 343.2,304.9 344.4,304.8 345.6,302.8 346.8,302.3 348.0,301.1 349.2,300.6 350.4,298.3 351.7,298.2 352.9,296.2 354.2,296.7 355.4,294.2 356.7,294.8 357.9,292.6 359.2,293.0 360.5,290.8 361.8,290.6 363.1,287.8 364.4,288.8 365.7,287.0 367.0,286.9 368.3,285.0 369.6,284.8 370.9,282.9 372.2,282.8 373.6,281.7 374.9,281.5 376.2,279.3 377.6,279.3 378.9,277.8 380.3,278.7 381.7,276.4 383.0,276.3 384.4,275.3 385.8,275.6 387.2,273.6 388.7,273.9 390.1,272.2 391.5,272.4 392.9,270.7 394.4,270.5 395.8,269.5 397.3,269.4 398.7,268.3 400.1,267.1 401.6,266.4 403.0,266.9 404.4,264.5 405.9,265.2 407.3,263.5 408.7,263.9 410.2,261.6 411.6,262.2 413.0,260.8 414.5,261.3 415.9,259.1 417.4,259.5 418.8,257.8 420.3,258.5 421.7,256.0 423.2,256.3 424.7,255.1 426.1,255.1 427.6,253.6 429.1,254.3 430.6,252.7 432.0,252.6 433.5,251.6 435.0,251.1 436.5,250.3 438.0,250.0 439.5,248.5 441.0,249.7 442.5,247.7 444.0,248.1 445.5,246.5 447.0,247.4 448.5,245.6 450.0,246.2 451.5,244.9 453.0,244.8 454.5,243.3 456.0,243.8 457.5,242.8 459.0,243.3 460.5,241.8 462.0,241.9 463.5,240.2 465.1,241.2 466.6,239.1 468.1,240.1 469.6,238.4 471.1,238.5 472.6,237.1 474.1,237.7 475.6,236.7 477.2,237.7 478.7,235.0 480.2,235.7 481.7,233.2 483.2,234.8 484.8,233.1 486.3,233.3 487.8,232.4 489.3,232.1 490.9,231.1 492.4,231.8 493.9,229.7 495.4,231.1 497.0,229.6 498.5,229.3 500.0,227.8 501.6,229.2 503.1,227.4 504.6,227.6 506.2,226.4 507.7,227.1 509.2,225.5 510.8,226.6 512.3,224.9 513.8,226.1 515.4,224.4 516.9,224.8 518.5,223.5 520.0,224.3 521.6,222.5 523.1,222.5 524.6,221.8 526.2,222.2 527.7,221.3 529.3,221.4 530.8,220.1 532.4,220.8 533.9,219.8 535.5,220.0 537.1,218.3 538.6,219.3 540.2,217.6 541.7,218.5 543.3,217.0 544.8,217.9 546.4,217.1 548.0,217.0 549.5,215.7 551.1,216.4 552.6,215.3 554.2,215.4 555.8,214.1 557.3,215.1 558.9,214.0 560.5,214.5 562.0,212.9 563.6,213.6 565.2,212.7 566.7,213.9 568.3,212.0 569.9,212.8 571.4,211.5 573.0,211.8 574.6,210.6 576.1,211.5 577.7,210.3 579.3,211.0 580.8,209.2 582.4,210.9 584.0,209.7 585.6,209.8 587.1,208.7 588.7,209.5 590.3,208.3 591.8,208.3 593.4,208.1 595.0,208.2 596.6,207.5 598.1,207.9 599.7,206.3 601.3,207.3 602.9,206.3 604.4,206.5 606.0,205.4 607.6,206.2 609.2,204.4 610.8,206.4 612.3,204.7 613.9,205.4 615.5,204.5 617.1,204.5 618.7,203.5 620.2,205.1 621.8,203.5 623.4,203.1 625.0,201.4 626.6,203.1 628.1,202.6 629.7,202.8 631.3,201.6 632.9,202.8 634.5,200.9 636.0,202.2 637.6,201.1 639.2,201.8 640.8,200.5 642.4,200.9 643.9,200.0 645.5,200.6 647.1,199.9 648.7,201.2 650.3,198.6 651.8,199.0 653.4,198.3 655.0,199.5 656.6,198.4 658.2,199.3 659.8,197.3 661.3,198.1 662.9,197.6 664.5,197.6 666.1,197.1 667.7,197.4 669.2,196.5 670.8,197.3 672.4,196.0 674.0,196.9 675.6,194.9 677.2,196.3 678.7,194.8 680.3,195.8 681.9,194.9 683.5,195.2 685.1,193.7 686.7,194.5 688.2,193.4 689.8,194.7 691.4,192.7 693.0,194.4 694.6,192.7 696.2,193.4 697.7,191.6 699.3,193.1 700.9,192.0 702.5,191.9 704.1,191.7 705.7,192.7 707.2,190.9 708.8,191.9 710.4,191.3 712.0,191.7 713.6,189.6 715.2,190.8 716.7,189.4 718.3,190.3 719.9,188.1 721.5,190.1 723.1,188.3 724.7,189.5 726.2,188.0 727.8,189.3 729.4,187.5 731.0,188.2 732.6,187.4 734.2,188.6 735.8,186.6 737.3,188.1 738.9,186.4 740.5,186.9 742.1,186.4 743.7,186.4 745.3,185.7 746.8,186.0 748.4,185.1 750.0,185.3 751.6,184.1 753.2,185.7 754.8,184.1 756.4,184.9 757.9,183.4 759.5,184.6 761.1,182.6 762.7,183.6 764.3,182.6 765.9,183.2 767.4,181.9 769.0,183.1 770.6,181.7 772.2,182.6 773.8,182.0 775.4,182.6 777.0,181.4 778.5,181.8 780.1,180.3 781.7,180.8 783.3,179.9 784.9,180.2 786.5,179.4 788.1,180.8 789.6,179.8 791.2,180.5 792.8,178.5 794.4,179.9 796.0,178.1 797.6,179.6 799.2,178.0 800.8,179.2 802.3,178.6 803.9,178.9 805.5,178.1 807.1,178.2 808.7,176.7 810.3,178.3 811.9,177.2 813.5,177.2 815.1,176.2 816.6,176.5 818.2,175.7 819.8,177.1 821.4,175.4 823.0,176.2 824.6,174.6 826.2,176.2 827.8,175.1 829.4,175.9 831.0,174.5 832.6,174.9 834.1,174.8 835.7,175.0 837.3,173.7 838.9,175.0 840.5,172.7 842.1,174.4 843.7,173.1 845.3,174.3 846.9,173.4 848.5,174.0 850.1,171.9 851.7,173.4 853.3,172.3 854.8,173.2 856.4,171.5 858.0,172.3 859.6,171.8 861.2,172.7 862.8,171.3 864.4,171.6 866.0,171.7 867.6,170.9 869.2,170.6 870.8,172.4 872.4,170.3 874.0,171.4 875.5,169.6 877.1,171.5 878.7,169.3 880.3,170.8 881.9,169.5 883.5,170.0 885.1,169.5 886.7,169.6 888.3,168.6 889.9,169.8 891.5,168.4 893.1,169.7 894.7,168.6 896.3,169.1 897.8,167.8 899.4,168.8 901.0,167.6 902.6,169.0 904.2,167.4 905.8,168.6 907.4,167.1 909.0,167.8 910.6,167.2 912.2,167.5 913.8,166.6 915.4,168.2 917.0,166.0 918.6,167.3 920.2,165.5 921.8,166.9 923.3,165.3 924.9,166.7 926.5,165.4 928.1,166.7 929.7,166.0 931.3,166.5 932.9,165.4 934.5,166.1 936.1,164.8 937.7,165.6 939.3,164.0 940.9,165.7 942.5,165.1 944.1,165.6 945.7,164.0 947.3,165.8 948.9,163.8 950.5,164.7 952.1,163.3 953.7,164.4 955.2,163.4 956.8,165.3 958.4,163.2 960.0,163.9 961.6,162.8 963.2,164.0 964.8,162.2 966.4,163.9 968.0,162.9 969.6,163.7 971.2,162.6 972.8,162.9 974.4,161.5 976.0,163.6 977.6,162.3 979.2,162.3 980.8,161.8 982.4,162.7 984.0,161.7 985.6,162.5 987.2,161.0 988.7,162.3 990.3,161.1 991.9,162.0 993.5,160.1 995.1,160.6 996.7,160.3 998.3,160.9 999.9,160.4 1001.5,161.6 1003.1,160.2 1004.7,161.0 1006.3,159.9 1007.9,161.3 1009.5,159.4 1011.1,161.0 1012.7,159.8 1014.3,160.6 1015.9,159.8 1017.5,160.0 1019.1,159.4 1020.7,159.7 1022.3,158.6 1023.9,159.5 1025.5,158.8 1027.1,159.3 1028.7,158.5 1030.2,159.0 1031.8,158.7 1033.4,160.0 1035.0,158.2 1036.6,159.7 1038.2,158.1 1039.8,159.7 1041.4,157.7 1043.0,158.1 1044.6,158.1 1046.2,158.5 1047.8,156.9 1049.4,158.1 1051.0,156.5 1052.6,158.0 1054.2,156.5 1055.8,158.5 1057.4,157.0 1059.0,157.1 1060.6,155.9 1062.2,157.3 1063.8,155.6 1065.4,157.2 1067.0,156.1 1068.6,156.8 1070.2,155.7 1071.8,157.1 1073.4,156.2 1075.0,157.2 1076.6,155.5 1078.2,156.8 1079.8,155.0 1081.4,156.4 1083.0,154.7 1084.5,156.3 1086.1,154.3 1087.7,155.4 1089.3,154.6 1090.9,155.8 1092.5,153.8 1094.1,155.2 1095.7,154.2 1097.3,155.2 1098.9,153.6 1100.5,155.0 1102.1,153.6 1103.7,155.3 1105.3,153.7 1106.9,154.0 1108.5,152.5 1110.1,154.4 1111.7,153.6 1113.3,154.2 1114.9,153.3 1116.5,153.7 1118.1,152.2 1119.7,154.0 1121.3,152.6 1122.9,153.8 1124.5,151.8 1126.0,153.4 1127.6,151.9 1129.2,153.5 1130.8,151.7 1132.4,152.7 1134.0,151.6 1135.6,153.3 1137.2,151.6 1138.8,152.3 1140.4,151.0 1142.0,152.0 1143.6,151.8 1145.2,151.5 1146.8,150.7 1148.4,152.3 1150.0,151.3 1151.6,151.8 1153.2,151.0 1154.8,152.0 1156.4,150.9 1158.0,151.5 1159.6,151.0 1161.2,151.4 1162.8,150.7 1164.4,150.7 1166.0,150.3 1167.6,150.5 1169.2,149.2 1170.8,151.0 1172.4,149.3 1174.0,150.8 1175.6,149.0 1177.2,151.0 1178.8,149.2 1180.4,149.8 1182.0,149.1 1183.5,150.3 1185.1,148.5 1186.7,150.0 1188.3,149.4 1189.9,149.9 1191.5,148.4 1193.1,149.2 1194.7,148.4 1196.3,148.6 1197.9,146.8 1199.5,148.7 1201.1,147.4 1202.7,149.4 1204.3,147.6 1205.9,148.2 1207.5,146.9 1209.1,148.5 1210.7,146.8 1212.2,147.9 1213.8,146.9 1215.4,147.9 1217.0,146.7 1218.6,147.7 1220.1,147.0 1221.7,148.1 1223.3,145.6 1224.8,148.2 1226.4,146.1 1227.9,147.5 1229.5,145.6 1231.0,147.0 1232.5,145.7 1234.1,146.7 1235.6,145.8 1237.1,146.7 1238.7,144.8 1240.2,146.2 1241.7,145.3 1243.2,146.3 1244.8,144.7 1246.3,145.7 1247.8,144.6 1249.4,145.2 1251.0,143.9 1252.5,146.0 1254.1,144.1 1255.8,145.3 1257.4,143.7 1259.1,145.5 1260.8,144.5 1262.6,144.7 1264.4,143.8 1266.3,144.3 1268.0,144.1"/>
<polyline stroke="#2c6565" stroke-width="6.1" points="175.0,861.8 175.5,859.4 176.1,859.7 176.6,856.7 177.1,855.4 177.6,853.4 178.0,852.7 178.5,850.4 179.0,849.3 179.4,847.3 179.9,846.9 180.3,844.7 180.7,843.8 181.0,841.2 181.4,840.0 181.7,838.8 181.9,836.7 182.2,835.2 182.5,834.2 182.7,831.3 183.0,830.9 183.2,828.2 183.4,828.1 183.6,825.2 183.9,825.4 184.1,821.4 184.3,821.6 184.5,818.6 184.7,818.7 184.9,814.9 185.1,815.1 185.3,812.6 185.5,811.5 185.7,809.8 185.9,809.0 186.1,806.6 186.3,806.1 186.5,802.7 186.7,802.2 186.8,799.8 187.0,799.7 187.2,797.0 187.4,795.9 187.6,793.3 187.8,792.7 188.0,790.1 188.2,789.7 188.4,787.1 188.5,787.4 188.7,783.8 188.9,783.4 189.1,781.0 189.3,779.9 189.5,777.5 189.7,777.1 189.8,774.7 190.0,773.4 190.2,771.8 190.4,770.6 190.5,768.1 190.7,767.9 190.9,765.1 191.0,764.8 191.2,761.8 191.4,761.2 191.5,758.6 191.7,757.6 191.8,755.8 192.0,754.5 192.2,751.7 192.3,752.4 192.5,748.9 192.6,748.0 192.8,746.5 193.0,745.1 193.1,743.0 193.3,741.8 193.5,739.3 193.6,738.3 193.8,735.5 194.0,735.4 194.1,733.0 194.3,732.9 194.5,730.8 194.7,729.0 194.9,727.1 195.0,726.0 195.2,723.5 195.4,722.5 195.6,719.8 195.8,719.6 196.0,716.7 196.2,716.7 196.4,713.7 196.6,714.0 196.8,710.9 197.1,710.4 197.3,708.1 197.5,707.4 197.7,704.5 197.9,704.0 198.1,701.3 198.3,701.3 198.5,698.5 198.7,697.8 198.9,695.3 199.1,694.3 199.3,692.0 199.5,690.8 199.6,689.1 199.8,688.2 200.0,685.5 200.2,685.2 200.3,682.3 200.5,681.7 200.6,679.5 200.8,678.6 200.9,675.5 201.1,675.6 201.2,672.0 201.4,672.8 201.5,669.4 201.6,669.0 201.8,667.2 201.9,666.6 202.1,663.2 202.2,662.9 202.3,660.3 202.5,660.1 202.6,656.7 202.8,656.3 202.9,654.0 203.0,653.2 203.2,650.6 203.3,650.1 203.5,646.7 203.6,646.4 203.8,643.0 203.9,643.4 204.1,641.3 204.3,639.9 204.4,638.1 204.6,637.5 204.8,634.4 205.0,634.0 205.2,631.3 205.4,630.5 205.6,628.0 205.8,627.6 206.0,625.2 206.2,624.7 206.4,621.5 206.6,621.6 206.8,618.3 207.0,618.0 207.2,615.6 207.5,614.9 207.7,612.2 207.9,611.9 208.2,608.9 208.4,608.4 208.7,605.8 208.9,605.8 209.1,602.7 209.4,603.0 209.6,599.7 209.9,598.0 210.1,596.2 210.4,596.6 210.6,593.2 210.8,592.6 211.0,589.7 211.3,590.1 211.5,587.3 211.7,586.7 211.9,583.9 212.1,583.8 212.3,580.8 212.5,579.6 212.7,577.7 212.9,576.9 213.1,574.1 213.3,574.0 213.5,571.0 213.7,569.4 213.9,568.4 214.1,567.8 214.3,564.6 214.5,564.0 214.7,561.6 214.9,560.5 215.1,558.4 215.3,557.8 215.5,555.0 215.7,554.3 215.9,551.7 216.1,551.9 216.3,549.3 216.6,548.5 216.8,545.6 217.0,544.8 217.2,542.8 217.4,542.6 217.6,538.7 217.8,539.3 218.0,535.3 218.3,535.5 218.5,533.1 218.7,532.0 218.9,529.3 219.1,529.4 219.4,527.0 219.6,526.0 219.8,524.0 220.1,522.7 220.3,521.0 220.5,519.9 220.8,517.3 221.0,517.0 221.3,514.2 221.5,514.3 221.8,511.8 222.1,510.7 222.3,507.7 222.6,506.9 222.9,504.4 223.2,504.2 223.4,501.5 223.7,501.0 224.0,498.4 224.3,498.1 224.6,494.7 224.9,494.4 225.2,492.5 225.5,492.0 225.8,488.8 226.1,489.0 226.4,485.6 226.7,485.3 227.0,482.0 227.3,482.5 227.6,479.6 227.9,479.5 228.2,476.7 228.5,476.0 228.8,473.4 229.2,473.3 229.5,470.1 229.8,469.7 230.1,467.1 230.5,466.9 230.8,464.3 231.1,464.2 231.5,460.8 231.8,460.8 232.1,457.5 232.5,457.5 232.8,454.6 233.2,454.8 233.5,451.7 233.9,450.8 234.3,448.6 234.6,448.0 235.0,445.1 235.3,444.7 235.7,441.8 236.1,442.7 236.4,439.1 236.8,439.0 237.2,435.5 237.5,435.1 237.9,432.8 238.3,432.4 238.7,430.1 239.1,429.0 239.5,426.9 239.9,426.9 240.3,423.3 240.8,423.6 241.2,420.3 241.7,420.4 242.2,417.8 242.6,417.9 243.1,414.3 243.6,414.3 244.1,412.0 244.7,410.7 245.2,408.6 245.7,407.8 246.2,405.3 246.8,405.4 247.3,402.8 247.8,403.1 248.3,400.0 248.8,399.5 249.4,396.4 249.9,395.9 250.4,393.4 250.9,392.1 251.4,391.0 251.9,389.7 252.4,386.9 253.0,386.7 253.5,384.6 254.0,384.3 254.6,381.1 255.1,381.0 255.6,378.2 256.2,377.5 256.7,375.3 257.3,374.9 257.9,371.7 258.4,372.3 259.0,368.7 259.6,369.0 260.2,366.0 260.8,365.7 261.5,363.2 262.1,363.4 262.7,360.1 263.4,360.2 264.1,358.3 264.8,357.1 265.5,354.8 266.2,354.8 266.9,351.8 267.6,351.8 268.4,348.9 269.1,349.1 269.9,346.4 270.6,345.7 271.4,344.1 272.2,343.3 273.0,340.7 273.8,340.2 274.6,337.9 275.4,337.8 276.3,335.5 277.1,335.6 278.0,332.2 278.9,332.3 279.7,330.5 280.6,329.9 281.5,327.6 282.4,327.8 283.3,324.9 284.2,324.8 285.1,322.2 286.0,322.7 287.0,320.0 287.9,319.2 288.9,317.3 289.8,316.5 290.8,314.9 291.8,314.6 292.8,312.0 293.8,311.8 294.8,308.9 295.8,309.8 296.8,307.2 297.9,307.1 298.9,305.2 300.0,304.7 301.1,302.5 302.2,302.4 303.4,299.9 304.5,301.4 305.7,298.2 306.8,298.1 308.0,296.4 309.2,294.8 310.3,293.8 311.5,293.8 312.7,291.3 313.8,291.8 315.0,288.6 316.1,289.4 317.3,287.5 318.4,286.4 319.6,284.5 320.8,285.0 321.9,282.9 323.1,282.7 324.3,280.9 325.5,281.0 326.7,278.3 327.9,278.9 329.1,276.4 330.4,276.2 331.7,274.0 332.9,275.5 334.2,273.0 335.5,274.0 336.8,270.7 338.1,271.3 339.4,269.5 340.8,269.6 342.1,267.8 343.4,267.8 344.7,265.5 346.0,265.1 347.3,263.6 348.6,264.8 350.0,262.5 351.3,262.9 352.6,260.2 353.9,260.5 355.3,258.3 356.6,259.0 358.0,257.0 359.3,257.4 360.7,255.9 362.0,255.2 363.4,253.9 364.8,253.4 366.1,252.4 367.5,252.2 368.9,250.4 370.3,250.8 371.7,249.5 373.1,249.2 374.5,247.2 375.9,247.2 377.3,246.0 378.7,245.9 380.1,244.2 381.5,244.7 382.9,243.2 384.4,243.1 385.8,241.8 387.2,242.6 388.6,239.5 390.1,241.0 391.5,239.5 392.9,238.9 394.4,237.6 395.8,237.2 397.2,236.1 398.7,236.3 400.1,234.7 401.6,234.7 403.0,233.0 404.5,233.6 405.9,231.7 407.4,232.2 408.8,230.6 410.3,230.7 411.8,229.4 413.2,230.1 414.7,227.4 416.2,228.8 417.7,226.8 419.1,227.2 420.6,225.4 422.1,226.2 423.6,224.6 425.2,225.6 426.7,223.3 428.2,224.8 429.7,222.5 431.2,223.6 432.7,222.2 434.2,221.9 435.8,221.2 437.3,222.2 438.8,219.6 440.3,220.6 441.9,218.7 443.4,219.4 444.9,217.8 446.4,218.3 447.9,217.2 449.5,217.9 451.0,216.0 452.5,217.2 454.1,215.5 455.6,215.9 457.1,213.9 458.6,215.5 460.2,213.7 461.7,213.1 463.2,211.9 464.8,212.8 466.3,211.8 467.9,212.6 469.4,210.4 470.9,211.3 472.5,209.9 474.0,209.8 475.5,209.0 477.1,209.3 478.6,207.9 480.1,208.5 481.7,206.5 483.2,207.3 484.8,206.1 486.3,206.8 487.8,205.1 489.4,206.3 490.9,204.2 492.5,204.6 494.0,203.4 495.5,204.1 497.1,202.6 498.6,203.7 500.2,202.0 501.7,202.8 503.2,201.1 504.8,201.5 506.3,200.4 507.9,200.6 509.4,199.3 510.9,199.5 512.5,198.4 514.0,198.9 515.6,197.7 517.1,198.9 518.7,197.6 520.2,197.8 521.7,195.9 523.3,197.0 524.8,195.2 526.4,195.6 527.9,194.3 529.5,195.0 531.0,193.4 532.6,194.9 534.1,192.6 535.7,193.4 537.2,192.4 538.8,192.6 540.3,191.0 541.9,191.8 543.4,190.9 545.0,191.6 546.6,190.1 548.1,190.6 549.7,189.0 551.2,190.4 552.8,188.1 554.4,189.3 555.9,187.5 557.5,188.6 559.0,187.3 560.6,188.6 562.2,185.6 563.7,188.0 565.3,185.7 566.9,187.0 568.4,185.8 570.0,186.0 571.6,184.8 573.1,185.8 574.7,184.2 576.3,184.8 577.8,183.8 579.4,184.5 581.0,182.5 582.5,184.4 584.1,182.6 585.7,182.5 587.3,181.7 588.8,183.5 590.4,182.1 592.0,182.4 593.6,180.3 595.1,181.7 596.7,180.8 598.3,181.4 599.9,179.8 601.4,180.5 603.0,179.7 604.6,180.2 606.2,179.0 607.8,179.9 609.3,179.0 610.9,179.3 612.5,178.0 614.1,178.1 615.7,177.8 617.2,178.6 618.8,176.9 620.4,176.9 622.0,176.3 623.6,177.4 625.2,176.8 626.7,177.1 628.3,175.8 629.9,176.7 631.5,175.5 633.1,175.5 634.6,174.2 636.2,175.0 637.8,174.0 639.4,174.8 641.0,173.7 642.6,174.1 644.1,173.2 645.7,173.7 647.3,173.5 648.9,173.3 650.5,173.2 652.0,173.7 653.6,171.3 655.2,173.0 656.8,171.5 658.4,171.6 659.9,171.0 661.5,171.6 663.1,170.5 664.7,170.9 666.3,169.9 667.8,170.9 669.4,169.4 671.0,170.1 672.6,168.9 674.2,169.5 675.8,168.7 677.3,168.5 678.9,168.7 680.5,169.0 682.1,167.9 683.7,168.9 685.2,166.8 686.8,169.0 688.4,166.4 690.0,167.9 691.6,166.6 693.1,167.8 694.7,166.0 696.3,166.4 697.9,165.8 699.5,165.6 701.1,165.1 702.7,165.9 704.2,165.4 705.8,165.6 707.4,164.3 709.0,165.0 710.6,163.7 712.2,164.7 713.8,163.9 715.3,164.0 716.9,163.2 718.5,163.6 720.1,162.8 721.7,163.8 723.3,162.0 724.9,163.2 726.4,162.1 728.0,163.3 729.6,162.1 731.2,162.6 732.8,160.9 734.4,161.6 736.0,161.2 737.6,162.3 739.1,160.7 740.7,162.0 742.3,160.0 743.9,160.9 745.5,160.3 747.1,160.2 748.7,159.6 750.3,160.4 751.8,159.0 753.4,160.5 755.0,158.2 756.6,159.3 758.2,157.4 759.8,158.7 761.4,157.6 763.0,158.5 764.5,157.3 766.1,158.4 767.7,156.7 769.3,157.1 770.9,156.6 772.5,157.6 774.1,155.7 775.7,156.8 777.2,156.4 778.8,157.1 780.4,155.8 782.0,156.5 783.6,155.0 785.2,155.7 786.8,154.8 788.4,155.4 789.9,154.0 791.5,155.0 793.1,153.7 794.7,155.0 796.3,153.0 797.9,155.2 799.5,152.5 801.1,153.6 802.6,152.8 804.2,153.0 805.8,151.9 807.4,152.9 809.0,150.5 810.6,152.3 812.2,150.8 813.8,152.0 815.3,150.9 816.9,151.9 818.5,150.9 820.1,151.7 821.7,150.3 823.3,150.7 824.9,149.8 826.4,149.9 828.0,149.0 829.6,150.4 831.2,148.9 832.8,148.9 834.4,147.9 836.0,149.4 837.5,148.0 839.1,149.0 840.7,146.6 842.3,147.7 843.9,146.8 845.5,147.4 847.1,146.5 848.6,147.4 850.2,146.2 851.8,147.0 853.4,146.0 855.0,146.9 856.6,145.4 858.2,145.8 859.7,145.5 861.3,146.0 862.9,144.8 864.5,145.6 866.1,143.7 867.7,145.5 869.3,143.7 870.9,144.4 872.5,144.1 874.0,144.5 875.6,143.4 877.2,144.6 878.8,143.6 880.4,143.3 882.0,142.4 883.6,143.9 885.2,142.1 886.8,142.1 888.4,142.2 890.0,143.1 891.6,142.1 893.1,142.9 894.7,141.4 896.3,142.6 897.9,141.2 899.5,142.0 901.1,141.1 902.7,142.1 904.3,140.3 905.9,142.0 907.5,140.7 909.1,141.7 910.7,139.1 912.3,141.2 913.9,139.8 915.5,140.5 917.1,139.8 918.6,140.0 920.2,139.8 921.8,140.5 923.4,138.9 925.0,140.6 926.6,139.1 928.2,140.0 929.8,138.1 931.4,139.8 933.0,138.9 934.6,139.8 936.2,137.7 937.8,139.7 939.4,138.6 941.0,139.3 942.6,137.6 944.2,138.1 945.8,137.1 947.4,138.3 949.0,137.4 950.6,138.5 952.2,136.8 953.8,137.4 955.4,136.7 957.0,137.3 958.5,137.1 960.1,137.1 961.7,136.6 963.3,137.7 964.9,135.8 966.5,137.5 968.1,135.9 969.7,136.6 971.3,135.4 972.9,136.8 974.5,135.9 976.1,135.8 977.7,135.5 979.3,136.2 980.9,134.7 982.5,136.0 984.1,134.8 985.7,135.8 987.3,134.9 988.9,135.2 990.5,135.1 992.1,135.6 993.7,133.9 995.3,134.3 996.9,133.8 998.5,134.7 1000.0,133.9 1001.6,134.8 1003.2,134.1 1004.8,134.3 1006.4,133.4 1008.0,133.9 1009.6,132.7 1011.2,134.4 1012.8,132.5 1014.4,133.5 1016.0,132.2 1017.6,133.4 1019.2,132.3 1020.8,133.0 1022.4,131.3 1024.0,132.9 1025.6,131.2 1027.2,132.4 1028.8,131.4 1030.4,132.3 1031.9,130.1 1033.5,132.6 1035.1,131.1 1036.7,132.5 1038.3,131.5 1039.9,131.1 1041.5,130.1 1043.1,131.3 1044.7,130.4 1046.3,130.8 1047.9,129.7 1049.5,131.2 1051.1,129.2 1052.7,130.6 1054.3,129.7 1055.9,130.2 1057.5,129.4 1059.1,130.0 1060.7,128.2 1062.2,129.6 1063.8,128.5 1065.4,129.4 1067.0,128.4 1068.6,129.5 1070.2,128.2 1071.8,129.2 1073.4,127.7 1075.0,128.8 1076.6,127.5 1078.2,128.4 1079.8,128.0 1081.4,127.7 1083.0,127.3 1084.6,127.6 1086.2,126.8 1087.8,128.3 1089.4,126.7 1091.0,128.3 1092.6,126.2 1094.2,127.5 1095.7,126.1 1097.3,127.4 1098.9,126.0 1100.5,127.0 1102.1,126.0 1103.7,127.4 1105.3,125.8 1106.9,126.8 1108.5,125.4 1110.1,126.3 1111.7,124.8 1113.3,125.9 1114.9,125.1 1116.5,125.4 1118.1,125.2 1119.7,125.8 1121.3,124.4 1122.9,125.5 1124.5,124.8 1126.1,125.7 1127.7,124.4 1129.3,126.0 1130.8,125.1 1132.4,124.7 1134.0,124.3 1135.6,124.7 1137.2,123.3 1138.8,124.6 1140.4,124.0 1142.0,124.5 1143.6,123.3 1145.2,125.0 1146.8,123.4 1148.4,124.2 1150.0,123.8 1151.6,124.3 1153.2,122.6 1154.8,123.5 1156.4,122.5 1158.0,123.7 1159.6,122.8 1161.2,123.8 1162.8,122.3 1164.4,122.8 1166.0,122.4 1167.6,123.1 1169.2,121.4 1170.8,122.4 1172.4,121.7 1174.0,122.8 1175.5,121.7 1177.1,122.0 1178.7,121.9 1180.3,121.5 1181.9,121.0 1183.5,122.5 1185.1,121.2 1186.7,121.4 1188.3,120.8 1189.9,122.0 1191.5,120.6 1193.1,121.0 1194.7,120.8 1196.3,120.5 1197.9,119.9 1199.5,120.5 1201.1,119.5 1202.7,120.6 1204.3,119.7 1205.9,120.0 1207.5,119.3 1209.1,120.7 1210.6,119.1 1212.2,120.3 1213.8,119.0 1215.4,119.5 1217.0,118.5 1218.6,119.7 1220.1,118.6 1221.7,120.2 1223.3,118.9 1224.8,119.1 1226.4,117.9 1227.9,118.7 1229.5,117.0 1231.0,119.4 1232.5,117.9 1234.1,117.9 1235.6,117.5 1237.1,119.4 1238.7,117.5 1240.2,118.5 1241.7,117.2 1243.2,117.8 1244.8,116.5 1246.3,117.6 1247.8,116.8 1249.4,117.7 1251.0,116.8 1252.5,118.3 1254.1,116.6 1255.8,117.8 1257.4,116.1 1259.1,116.8 1260.8,116.9 1262.6,117.4 1264.4,116.4 1266.3,116.8 1268.0,115.2"/>
</g>
</g>
<g filter="url(#soft2)">
<g stroke="#000" fill="none" stroke-linecap="butt">
<path d="M170.3,43.6 H1282.0 V862.0 H170.3" stroke-width="6.9" stroke-linejoin="round"/>
<line x1="175.20000000000002" y1="40.15" x2="175.20000000000002" y2="865.45" stroke-width="8.6"/>
<path d="M156.2,862.0H174.8 M164.0,780.2H174.8 M156.2,698.3H174.8 M164.0,616.5H174.8 M156.2,534.6H174.8 M164.0,452.8H174.8 M156.2,371.0H174.8 M164.0,289.1H174.8 M156.2,207.3H174.8 M164.0,125.4H174.8 M156.2,43.6H174.8 M174.8,862.0V882.0 M285.5,862.0V873.5 M396.2,862.0V882.0 M507.0,862.0V873.5 M617.7,862.0V882.0 M728.4,862.0V873.5 M839.1,862.0V882.0 M949.8,862.0V873.5 M1060.6,862.0V882.0 M1171.3,862.0V873.5 M1282.0,862.0V882.0" stroke-width="6.0" stroke-linecap="butt"/>
</g>
</g>
<g fill="none" stroke-linecap="round" filter="url(#soft)">
<line x1="867.5" y1="592.6" x2="974.5" y2="592.6" stroke="#000000" stroke-width="6.8"/>
<line x1="867.5" y1="650.5" x2="974.5" y2="650.5" stroke="#cc0b12" stroke-width="6.8"/>
<line x1="867.5" y1="709.9" x2="974.5" y2="709.9" stroke="#2200f8" stroke-width="6.8"/>
<line x1="867.5" y1="768.1" x2="974.5" y2="768.1" stroke="#2c6565" stroke-width="5.8"/>
</g>
<g filter="url(#soft2)">
<g font-size="47.5" text-anchor="end">
<text transform="translate(145.6 875.2) scale(1 1.02)">0</text>
<text transform="translate(145.6 711.5) scale(1 1.02)">20</text>
<text transform="translate(145.6 547.8) scale(1 1.02)">40</text>
<text transform="translate(145.6 384.2) scale(1 1.02)">60</text>
<text transform="translate(145.6 220.5) scale(1 1.02)">80</text>
<text transform="translate(145.6 56.8) scale(1 1.02)">100</text>
</g>
<g font-size="47.5" text-anchor="middle">
<text transform="translate(174.2 926.8) scale(1 1.02)">0</text>
<text transform="translate(395.6 926.8) scale(1 1.02)">2</text>
<text transform="translate(617.1 926.8) scale(1 1.02)">4</text>
<text transform="translate(838.5 926.8) scale(1 1.02)">6</text>
<text transform="translate(1060.0 926.8) scale(1 1.02)">8</text>
<text transform="translate(1282.6 926.8) scale(1 1.02)">10</text>
</g>
<text x="737.4" y="990.5" font-size="58" text-anchor="middle" textLength="285.5" lengthAdjust="spacingAndGlyphs">Time (min)</text>
<text transform="translate(61 427) rotate(-90)" font-size="61" text-anchor="middle" textLength="406" lengthAdjust="spacingAndGlyphs">Conversion (%)</text>
<g font-size="47.1">
<text transform="translate(988.6 607.7) scale(1.012 1)">Mono-Para</text>
<text transform="translate(988.6 667.1) scale(1.012 1)">Bi-Para</text>
<text transform="translate(988.6 725.9) scale(1.012 1)">Mono-Meta</text>
<text transform="translate(988.6 784.7) scale(1.012 1)">Bi-Meta</text>
</g>
</g>
</svg></body></html>
